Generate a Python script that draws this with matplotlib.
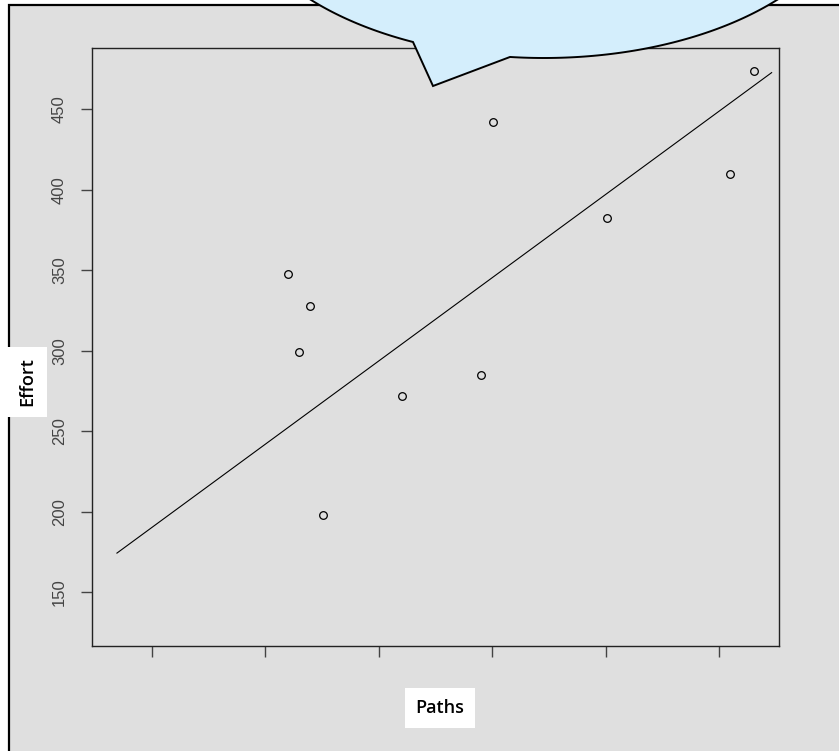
import matplotlib
matplotlib.use('Agg')
import matplotlib.pyplot as plt
from matplotlib.path import Path
from matplotlib.patches import PathPatch, Rectangle
import numpy as np

# data
paths = [4.40, 4.79, 4.60, 5.01, 6.41, 7.81, 8.01, 10.02, 12.20, 12.62]
effort = [347.6, 327.6, 299.2, 197.8, 271.7, 284.7, 442.0, 382.2, 409.8, 473.7]
fit_x = [1.38, 12.93]
fit_y = [174.3, 472.7]
x_ticks = [2, 4, 6, 8, 10, 12]
y_ticks = [150, 200, 250, 300, 350, 400, 450]

W, H = 839, 751
bg = '#dfdfdf'
fig = plt.figure(figsize=(W / 100, H / 100), dpi=100, facecolor='white')

# pixel overlay for frame and bubble
ov = fig.add_axes([0, 0, 1, 1], zorder=0)
ov.set_xlim(0, W)
ov.set_ylim(H, 0)
ov.axis('off')
ov.add_patch(Rectangle((9, 5), W, H, facecolor=bg, edgecolor='none'))
ov.plot([9, 9, W], [H, 5, 5], color='black', lw=1.6, solid_joinstyle='miter')

# main plot
ax = fig.add_axes([92 / W, (H - 646) / H, (779 - 92) / W, (646 - 48) / H], zorder=1)
ax.set_facecolor(bg)
ax.plot(paths, effort, 'o', mfc='none', mec='black', ms=5.5, mew=0.9)
ax.plot(fit_x, fit_y, color='black', lw=0.8)
ax.set_xlim(0.94, 13.06)
ax.set_ylim(116.6, 488)
ax.set_xticks(x_ticks)
ax.set_xticklabels([])
ax.set_yticks(y_ticks)
ax.set_yticklabels([str(v) for v in y_ticks], rotation=90, va='center',
                   fontsize=12, color='#444444', family=['Liberation Sans', 'DejaVu Sans'])
ax.tick_params(length=8, width=1, color='#444444', pad=10)
for s in ax.spines.values():
    s.set_linewidth(1)
    s.set_color('#222222')

lab_font = ['Liberation Sans Narrow', 'Open Sans', 'DejaVu Sans']
fig.text(27 / W, 1 - 382 / H, 'Effort', rotation=90, ha='center', va='center',
         fontsize=13, fontweight='semibold', family=lab_font,
         bbox=dict(boxstyle='square,pad=0.6', fc='white', ec='none'))
fig.text(440 / W, 1 - 708 / H, 'Paths', ha='center', va='center',
         fontsize=13, fontweight='semibold', family=lab_font,
         bbox=dict(boxstyle='square,pad=0.6', fc='white', ec='none'))

# speech bubble
top = fig.add_axes([0, 0, 1, 1], zorder=2)
top.set_xlim(0, W)
top.set_ylim(H, 0)
top.axis('off')
cx, cy, a, b = 544, -114, 311, 172
t_right = np.arctan2((57 - cy) / b, (510 - cx) / a)
t_left = np.arctan2((42 - cy) / b, (413 - cx) / a)
ts = np.linspace(t_right, t_left - 2 * np.pi, 400)
ex = cx + a * np.cos(ts)
ey = cy + b * np.sin(ts)
verts = list(zip(ex, ey)) + [(433, 86), (510, 57)]
codes = [Path.MOVETO] + [Path.LINETO] * (len(verts) - 2) + [Path.CLOSEPOLY]
top.add_patch(PathPatch(Path(verts, codes), facecolor='#d4eefc', edgecolor='black', lw=1.4))

fig.savefig('out.png', dpi=100, facecolor=fig.get_facecolor())
